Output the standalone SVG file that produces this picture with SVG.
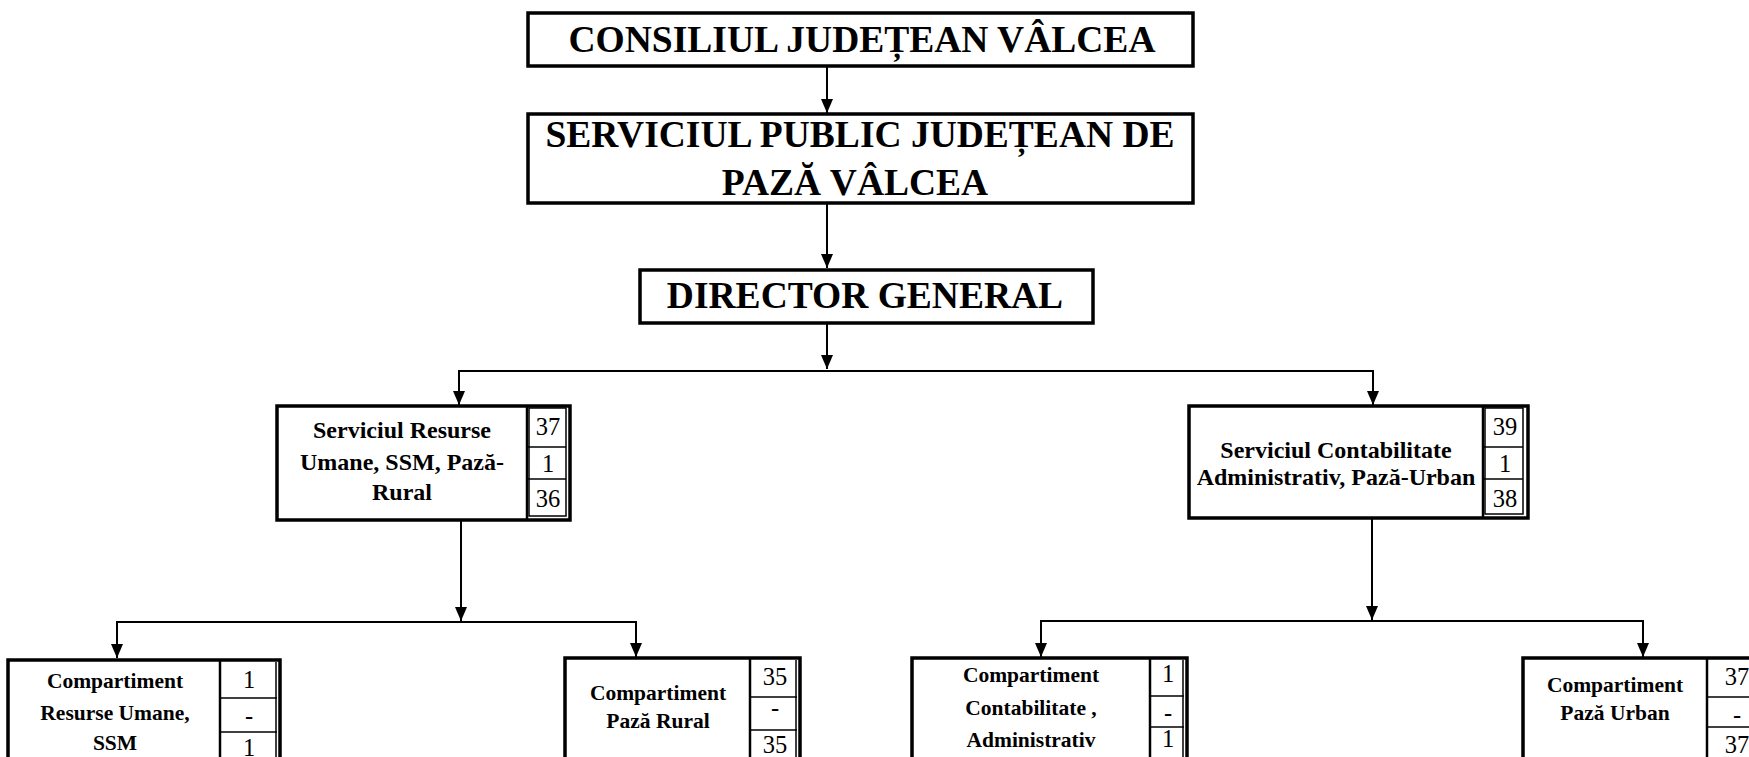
<svg xmlns="http://www.w3.org/2000/svg" width="1749" height="757" viewBox="0 0 1749 757">
<style>
.box{fill:#fff;stroke:#000;stroke-width:3.5}
.div{stroke:#000;stroke-width:2.5;fill:none}
.cell{stroke:#000;stroke-width:1.5;fill:none}
.big{font-family:"Liberation Serif","Times New Roman",serif;font-weight:bold;font-size:37.5px;text-anchor:middle;fill:#000}
.mid{font-family:"Liberation Serif","Times New Roman",serif;font-weight:bold;font-size:24px;text-anchor:middle;fill:#000}
.sm{font-family:"Liberation Serif","Times New Roman",serif;font-weight:bold;font-size:21.5px;text-anchor:middle;fill:#000}
.num{font-family:"Liberation Serif","Times New Roman",serif;font-size:24.5px;text-anchor:middle;fill:#000}
.con{stroke:#000;stroke-width:2;fill:none}
</style>
<defs>
<marker id="arr" viewBox="0 0 14 14" refX="14" refY="7" markerWidth="14" markerHeight="14" markerUnits="userSpaceOnUse" orient="auto">
<path d="M0,1 L14,7 L0,13 z" fill="#000"/>
</marker>
</defs>
<rect width="1749" height="757" fill="#fff"/>
<g id="connectors">
<line class="con" x1="827" y1="67" x2="827" y2="113" marker-end="url(#arr)"/>
<line class="con" x1="827" y1="203" x2="827" y2="268" marker-end="url(#arr)"/>
<line class="con" x1="827" y1="323" x2="827" y2="369" marker-end="url(#arr)"/>
<polyline class="con" points="459,405 459,371 1373,371 1373,405" />
<line class="con" x1="459" y1="380" x2="459" y2="405" marker-end="url(#arr)"/>
<line class="con" x1="1373" y1="380" x2="1373" y2="405" marker-end="url(#arr)"/>
<line class="con" x1="461" y1="520" x2="461" y2="621" marker-end="url(#arr)"/>
<polyline class="con" points="117,658 117,622 636,622 636,657"/>
<line class="con" x1="117" y1="630" x2="117" y2="658" marker-end="url(#arr)"/>
<line class="con" x1="636" y1="630" x2="636" y2="657" marker-end="url(#arr)"/>
<line class="con" x1="1372" y1="518" x2="1372" y2="620" marker-end="url(#arr)"/>
<polyline class="con" points="1041,657 1041,621 1643,621 1643,657"/>
<line class="con" x1="1041" y1="630" x2="1041" y2="657" marker-end="url(#arr)"/>
<line class="con" x1="1643" y1="630" x2="1643" y2="657" marker-end="url(#arr)"/>
</g>
<g id="consiliul">
<rect class="box" x="528" y="13" width="665" height="53"/>
<text class="big" x="862" y="52">CONSILIUL JUDEȚEAN VÂLCEA</text>
</g>
<g id="serviciul-public">
<rect class="box" x="528" y="114" width="665" height="89"/>
<text class="big" x="860" y="147">SERVICIUL PUBLIC JUDEȚEAN DE</text>
<text class="big" x="855" y="195">PAZĂ VÂLCEA</text>
</g>
<g id="director">
<rect class="box" x="640" y="270" width="453" height="53"/>
<text class="big" x="865" y="308">DIRECTOR GENERAL</text>
</g>
<g id="serviciul-resurse">
<rect class="box" x="277" y="406" width="293" height="114"/>
<line class="div" x1="527" y1="406" x2="527" y2="520"/>
<rect class="cell" x="529" y="408" width="37" height="108"/>
<line class="cell" x1="527" y1="447" x2="566" y2="447"/>
<line class="cell" x1="527" y1="479" x2="566" y2="479"/>
<text class="mid" x="402" y="438">Serviciul Resurse</text>
<text class="mid" x="402" y="470">Umane, SSM, Pază-</text>
<text class="mid" x="402" y="500">Rural</text>
<text class="num" x="548" y="435">37</text>
<text class="num" x="548" y="472">1</text>
<text class="num" x="548" y="507">36</text>
</g>
<g id="serviciul-contabilitate">
<rect class="box" x="1189" y="406" width="339" height="112"/>
<line class="div" x1="1483" y1="406" x2="1483" y2="518"/>
<rect class="cell" x="1485" y="408" width="38" height="106"/>
<line class="cell" x1="1483" y1="447" x2="1523" y2="447"/>
<line class="cell" x1="1483" y1="479" x2="1523" y2="479"/>
<text class="mid" x="1336" y="458">Serviciul Contabilitate</text>
<text class="mid" x="1336" y="485">Administrativ, Pază-Urban</text>
<text class="num" x="1505" y="435">39</text>
<text class="num" x="1505" y="472">1</text>
<text class="num" x="1505" y="507">38</text>
</g>
<g id="comp-resurse">
<rect class="box" x="8" y="660" width="272" height="120"/>
<line class="div" x1="220" y1="660" x2="220" y2="780"/>
<line class="cell" x1="220" y1="698" x2="277" y2="698"/>
<line class="cell" x1="220" y1="732" x2="277" y2="732"/>
<line class="cell" x1="276" y1="662" x2="276" y2="780"/>
<text class="sm" x="115" y="688">Compartiment</text>
<text class="sm" x="115" y="720">Resurse Umane,</text>
<text class="sm" x="115" y="750">SSM</text>
<text class="num" x="249" y="688">1</text>
<text class="num" x="249" y="724">-</text>
<text class="num" x="249" y="756">1</text>
</g>
<g id="comp-paza-rural">
<rect class="box" x="565" y="658" width="235" height="120"/>
<line class="div" x1="750" y1="658" x2="750" y2="778"/>
<line class="cell" x1="750" y1="697" x2="797" y2="697"/>
<line class="cell" x1="750" y1="730" x2="797" y2="730"/>
<line class="cell" x1="796" y1="660" x2="796" y2="778"/>
<text class="sm" x="658" y="700">Compartiment</text>
<text class="sm" x="658" y="728">Pază Rural</text>
<text class="num" x="775" y="685">35</text>
<text class="num" x="775" y="716">-</text>
<text class="num" x="775" y="753">35</text>
</g>
<g id="comp-contabilitate">
<rect class="box" x="912" y="658" width="275" height="120"/>
<line class="div" x1="1150" y1="658" x2="1150" y2="778"/>
<line class="cell" x1="1150" y1="696" x2="1184" y2="696"/>
<line class="cell" x1="1150" y1="727" x2="1184" y2="727"/>
<line class="cell" x1="1183" y1="660" x2="1183" y2="778"/>
<text class="sm" x="1031" y="682">Compartiment</text>
<text class="sm" x="1031" y="715">Contabilitate ,</text>
<text class="sm" x="1031" y="747">Administrativ</text>
<text class="num" x="1168" y="682">1</text>
<text class="num" x="1168" y="721">-</text>
<text class="num" x="1168" y="747">1</text>
</g>
<g id="comp-paza-urban">
<rect class="box" x="1523" y="658" width="240" height="120"/>
<line class="div" x1="1707" y1="658" x2="1707" y2="778"/>
<line class="cell" x1="1707" y1="697" x2="1760" y2="697"/>
<line class="cell" x1="1707" y1="727" x2="1760" y2="727"/>
<text class="sm" x="1615" y="692">Compartiment</text>
<text class="sm" x="1615" y="720">Pază Urban</text>
<text class="num" x="1737" y="685">37</text>
<text class="num" x="1737" y="723">-</text>
<text class="num" x="1737" y="753">37</text>
</g>
</svg>
